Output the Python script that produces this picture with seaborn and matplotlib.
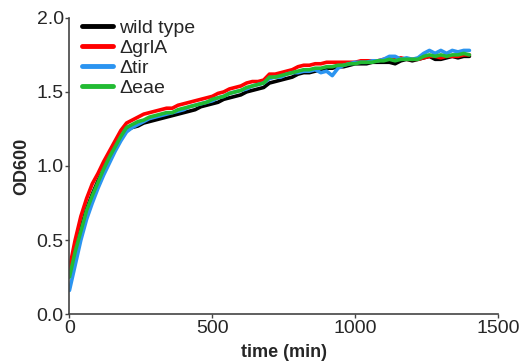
import numpy as np
import pandas as pd
import matplotlib.pyplot as plt
import seaborn as sns

# time points (min)
time_min = list(range(0, 1401, 20))

od_wildtype = [0.27, 0.44, 0.58, 0.71, 0.81, 0.90, 0.98, 1.06, 1.13, 1.19,
               1.24, 1.26, 1.27, 1.29, 1.30, 1.31, 1.32, 1.33, 1.34, 1.35,
               1.36, 1.37, 1.38, 1.40, 1.41, 1.42, 1.43, 1.45, 1.46, 1.47,
               1.48, 1.50, 1.51, 1.52, 1.53, 1.56, 1.57, 1.58, 1.59, 1.60,
               1.62, 1.63, 1.63, 1.64, 1.65, 1.66, 1.66, 1.67, 1.67, 1.68,
               1.69, 1.69, 1.69, 1.70, 1.70, 1.70, 1.70, 1.69, 1.71, 1.72,
               1.71, 1.72, 1.73, 1.74, 1.72, 1.72, 1.73, 1.74, 1.73, 1.74,
               1.74]

od_grlA = [0.31, 0.50, 0.66, 0.78, 0.88, 0.95, 1.03, 1.10, 1.17, 1.24,
           1.29, 1.31, 1.33, 1.35, 1.36, 1.37, 1.38, 1.39, 1.39, 1.41,
           1.42, 1.43, 1.44, 1.45, 1.46, 1.47, 1.49, 1.50, 1.52, 1.53,
           1.54, 1.56, 1.57, 1.57, 1.58, 1.62, 1.62, 1.63, 1.64, 1.65,
           1.67, 1.68, 1.68, 1.69, 1.69, 1.70, 1.70, 1.70, 1.70, 1.70,
           1.70, 1.71, 1.71, 1.71, 1.71, 1.72, 1.73, 1.72, 1.73, 1.72,
           1.72, 1.72, 1.73, 1.74, 1.74, 1.73, 1.74, 1.74, 1.74, 1.75,
           1.75]

od_tir = [0.16, 0.33, 0.50, 0.64, 0.75, 0.85, 0.94, 1.02, 1.10, 1.17,
          1.23, 1.26, 1.28, 1.30, 1.32, 1.33, 1.34, 1.35, 1.36, 1.37,
          1.38, 1.40, 1.41, 1.42, 1.43, 1.44, 1.46, 1.47, 1.49, 1.50,
          1.51, 1.52, 1.54, 1.55, 1.56, 1.59, 1.60, 1.60, 1.62, 1.63,
          1.63, 1.64, 1.64, 1.65, 1.63, 1.64, 1.61, 1.66, 1.68, 1.69,
          1.70, 1.70, 1.70, 1.71, 1.71, 1.72, 1.74, 1.74, 1.72, 1.73,
          1.72, 1.73, 1.76, 1.78, 1.76, 1.78, 1.76, 1.78, 1.77, 1.78,
          1.78]

od_eae = [0.25, 0.42, 0.56, 0.70, 0.80, 0.89, 0.98, 1.06, 1.13, 1.20,
          1.26, 1.28, 1.30, 1.31, 1.33, 1.34, 1.35, 1.36, 1.36, 1.38,
          1.39, 1.40, 1.41, 1.42, 1.43, 1.45, 1.46, 1.47, 1.49, 1.50,
          1.51, 1.53, 1.54, 1.55, 1.56, 1.60, 1.60, 1.61, 1.62, 1.63,
          1.64, 1.65, 1.65, 1.66, 1.66, 1.67, 1.67, 1.68, 1.68, 1.69,
          1.69, 1.70, 1.70, 1.70, 1.71, 1.71, 1.72, 1.71, 1.72, 1.72,
          1.72, 1.72, 1.74, 1.75, 1.74, 1.75, 1.74, 1.75, 1.75, 1.76,
          1.75]

labels = ['wild type', '\u0394grlA', '\u0394tir', '\u0394eae']
colors = ['#000000', '#ff0000', '#2b94f0', '#22bb33']
series = [od_wildtype, od_grlA, od_tir, od_eae]

sns.set_style('white')
plt.rcParams['font.family'] = ['Liberation Sans', 'DejaVu Sans']

fig = plt.figure(figsize=(5.22, 3.64), dpi=100)
ax = fig.add_axes([0.133, 0.137, 0.821, 0.814])

for vals, lab, col in zip(series, labels, colors):
    df = pd.DataFrame({'time': time_min, 'od': vals})
    sns.lineplot(data=df, x='time', y='od', ax=ax, color=col, label=lab,
                 linewidth=2.6)

ax.set_xlim(0, 1500)
ax.set_ylim(0, 2.0)
ax.set_xticks([0, 500, 1000, 1500])
ax.set_yticks([0.0, 0.5, 1.0, 1.5, 2.0])
ax.set_yticklabels(['0.0', '0.5', '1.0', '1.5', '2.0'])
ax.tick_params(axis='both', labelsize=14, length=3, width=1, color='#444444',
               direction='out', left=True, bottom=True, pad=1)
for s in ['top', 'right']:
    ax.spines[s].set_visible(False)
for s in ['left', 'bottom']:
    ax.spines[s].set_color('#444444')
    ax.spines[s].set_linewidth(1.2)

ax.set_xlabel('time (min)', fontsize=13, fontweight='bold', labelpad=5)
ax.set_ylabel('OD600', fontsize=13, fontweight='bold', labelpad=5)

leg = ax.legend(loc='upper left', bbox_to_anchor=(0.012, 1.02), frameon=False,
                fontsize=14, handlelength=1.6, handletextpad=0.3,
                labelspacing=0.12, borderaxespad=0)
for line in leg.get_lines():
    line.set_linewidth(3.5)

plt.savefig('out.png', dpi=100)
